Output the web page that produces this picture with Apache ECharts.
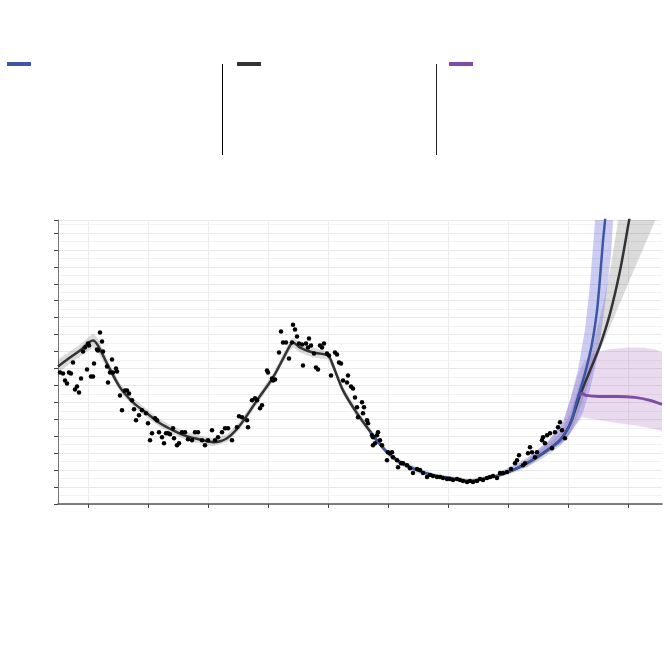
<!DOCTYPE html>
<html><head><meta charset="utf-8">
<script src="https://cdn.jsdelivr.net/npm/echarts@6/dist/echarts.min.js"></script>
<style>html,body{margin:0;padding:0;background:#fff}#c{width:670px;height:658px}</style>
</head><body><div id="c"></div>
<script>
// x: days from left edge of the plot; y: value in axis units (tick every 17)
const observed = [
[2,132],[5,131],[7,124],[9,121],[11,132],[13,131],[15,142],[17,115],[19,118],[21,112],[23,126],[25,153],[27,157],[29,135],[30,161],[31,159],[33,128],[35,128],[36,141],[39,155],[40,154],[42,172],[44,163],[45,153],[49,138],[50,122],[52,132],[54,145],[55,132],[58,136],[59,133],[62,109],[64,94],[67,114],[69,114],[71,111],[74,104],[76,95],[78,84],[81,89],[84,94],[88,91],[90,81],[92,64],[94,71],[97,86],[99,84],[101,72],[104,67],[106,61],[108,71],[110,71],[112,70],[115,76],[116,66],[119,59],[121,61],[124,72],[127,72],[130,65],[134,64],[137,72],[140,72],[144,64],[147,59],[150,64],[154,74],[157,64],[160,67],[164,72],[167,76],[170,76],[174,64],[179,77],[181,88],
[184,87],[189,84],[190,77],[194,104],[197,106],[199,104],[202,96],[204,99],[209,134],[210,132],[214,126],[215,124],[217,125],[221,152],[223,173],[225,162],[228,162],[231,146],[234,162],[235,180],[237,175],[239,168],[241,161],[244,160],[245,139],[248,161],[250,157],[251,166],[253,159],[256,151],[258,137],[260,135],[262,159],[264,157],[266,161],[269,151],[271,149],[273,129],[277,152],[279,150],[281,142],[283,141],[285,124],[289,122],[290,129],[293,118],[295,116],[297,107],[299,97],[300,87],[304,102],[305,91],[306,97],[309,84],[310,81],[315,67],[317,61],
[314,69],[315,59],[319,69],[320,72],[322,64],[324,59],[329,44],[330,52],[332,51],[334,52],[335,47],[339,44],[340,37],[343,41],[345,41],[349,39],[352,36],[355,31],[359,35],[362,34],[365,31],[369,27],[372,29],[375,28],[379,27],[382,27],[385,26],[389,25],[392,25],[395,24],[399,25],[402,24],[405,23],[409,22],[412,23],[415,22],[419,23],[422,25],[425,24],[429,26],[432,27],[435,28],[439,26],[442,31],[445,31],[449,32],[453,35],[457,41],[459,44],[461,49],[465,39],[467,41],[470,51],[472,57],[474,52],[477,47],[479,52],[484,64],[485,67],[487,61],[489,69],[492,71],[494,56],[497,72],[500,77],[502,82],[504,74],[507,66]
];
const fitAll = [
[0,138],[12,147],[22,154],[35,164],[40,159],[49,141],[62,117],[75,102],[89,91],[102,81],[115,74],[129,68],[145,64],[155,62],[169,66],[182,79],[199,104],[215,127],[232,159],[235,162],[242,157],[255,152],[270,149],[275,139],[285,114],[299,91],[315,69],[329,52],[342,42],[359,34],[375,29],[392,26],[412,23],[429,26],[442,29],[455,34],[469,41],[485,51],[502,64],[512,80],[517,94],[522,109],[532,134],[542,159],[552,191],[562,234],[571,284],[577,316]
];
const fitBlue = [
[312,72],[329,52],[342,42],[359,34],[375,29],[392,26],[412,23],[429,26],[442,29],[455,34],[469,41],[485,51],[502,64],[512,80],[519,104],[527,131],[534,161],[539,194],[542,227],[545,264],[547,284],[549,305]
];
const fitPurple = [
[521,108],[524,111],[528,109],[542,108],[559,108],[577,107],[592,104],[604,100]
];
const grayUpper = [
[0,145],[12,153],[22,160],[35,171],[40,166],[49,146],[62,121],[75,106],[89,95],[102,85],[115,78],[129,72],[145,68],[155,66],[169,70],[182,83],[199,108],[215,131],[232,164],[235,167],[242,162],[255,157],[270,153],[275,143],[285,118],[299,95],[315,72],[329,55],[342,45],[359,37],[375,31],[392,28],[412,25],[429,28],[442,31],[455,37],[469,45],[485,56],[502,71],[512,90],[522,122],[535,160],[545,200],[553,240],[560,284],[566,320]
];
const grayLower = [
[0,131],[12,141],[22,148],[35,157],[40,152],[49,136],[62,113],[75,98],[89,87],[102,77],[115,70],[129,64],[145,60],[155,58],[169,62],[182,75],[199,100],[215,123],[232,154],[235,157],[242,152],[255,147],[270,145],[275,135],[285,110],[299,87],[315,66],[329,49],[342,39],[359,31],[375,27],[392,24],[412,21],[429,24],[442,27],[455,31],[469,37],[485,46],[502,58],[512,70],[522,96],[539,147],[568,216],[597,284],[605,304]
];
const blueUpper = [
[440,31],[470,47],[490,63],[505,82],[512,104],[520,135],[527,175],[532,220],[537,284],[540,320]
];
const blueLower = [
[440,27],[470,38],[490,52],[505,62],[515,75],[525,92],[532,115],[540,150],[547,200],[553,250],[555,284],[557,310]
];
const purpleUpper = [
[472,48],[490,63],[505,82],[512,104],[520,130],[526,143],[535,151],[550,155],[570,157],[585,157],[597,155],[604,152]
];
const purpleLower = [
[472,40],[490,52],[505,62],[515,75],[524,87],[542,84],[560,81],[577,79],[592,76],[604,73]
];
const xMajorTicks = [30,90,150,210,270,330,390,450,510,570];

const chart = echarts.init(document.getElementById('c'), null, {renderer:'canvas'});

function band(upper, lower, color, z) {
  return {
    type: 'custom', clip: true, silent: true, z: z,
    data: [upper[0]],
    renderItem: function (params, api) {
      const pts = upper.concat(lower.slice().reverse()).map(p => api.coord(p));
      return {type: 'polygon', shape: {points: pts, smooth: 0}, style: {fill: color}};
    }
  };
}

const COL_BLUE = '#3d57a7', COL_DARK = '#333333', COL_PURPLE = '#7c4da3';

function leg(left, name, color) {
  return {
    left: left, top: 62, padding: 0, itemWidth: 24, itemHeight: 4,
    icon: 'rect', selectedMode: false,
    formatter: function () { return ''; },
    data: [{name: name, icon: 'rect', itemStyle: {color: color}}]
  };
}

chart.setOption({
  animation: false,
  backgroundColor: '#ffffff',
  legend: [leg(7, 'blue', COL_BLUE), leg(237, 'dark', COL_DARK), leg(449, 'purple', COL_PURPLE)],
  graphic: [
    {type: 'line', shape: {x1: 222.5, y1: 64, x2: 222.5, y2: 155}, style: {stroke: '#000', lineWidth: 1}},
    {type: 'line', shape: {x1: 436.5, y1: 64, x2: 436.5, y2: 155}, style: {stroke: '#222', lineWidth: 1}}
  ],
  grid: {left: 58, right: 8, top: 220, bottom: 154, containLabel: false},
  xAxis: {
    type: 'value', min: 0, max: 604, interval: 30,
    axisLine: {show: true, onZero: false, lineStyle: {color: '#555', width: 1.5}},
    axisTick: {show: true, length: 4, customValues: xMajorTicks, lineStyle: {color: '#444'}},
    axisLabel: {show: false},
    splitLine: {show: true, lineStyle: {color: '#ececec', width: 1}}
  },
  yAxis: {
    type: 'value', min: 0, max: 285, interval: 17,
    axisLine: {show: true, onZero: false, lineStyle: {color: '#777', width: 1}},
    axisTick: {show: true, length: 4, lineStyle: {color: '#444'}},
    axisLabel: {show: false},
    splitLine: {show: true, lineStyle: {color: '#e8e8e8', width: 1}},
    minorTick: {show: false, splitNumber: 2},
    minorSplitLine: {show: true, lineStyle: {color: '#f2f2f2', width: 1}}
  },
  series: [
    band(grayUpper, grayLower, 'rgba(0,0,0,0.14)', 1),
    band(purpleUpper, purpleLower, 'rgba(150,70,175,0.2)', 2),
    band(blueUpper, blueLower, 'rgba(95,95,215,0.32)', 3),
    {name: 'dark', type: 'line', data: fitAll, smooth: 0.3, showSymbol: false, z: 4,
     lineStyle: {color: COL_DARK, width: 2.5}, itemStyle: {color: COL_DARK}},
    {name: 'purple', type: 'line', data: fitPurple, smooth: 0.3, showSymbol: false, z: 5,
     lineStyle: {color: COL_PURPLE, width: 3}, itemStyle: {color: COL_PURPLE}},
    {name: 'blue', type: 'line', data: fitBlue, smooth: 0.3, showSymbol: false, z: 6,
     lineStyle: {color: COL_BLUE, width: 2.5}, itemStyle: {color: COL_BLUE}},
    {name: 'obs', type: 'scatter', data: observed, symbolSize: 4.5, z: 7,
     itemStyle: {color: '#000', opacity: 1}}
  ]
});
</script>
</body></html>
